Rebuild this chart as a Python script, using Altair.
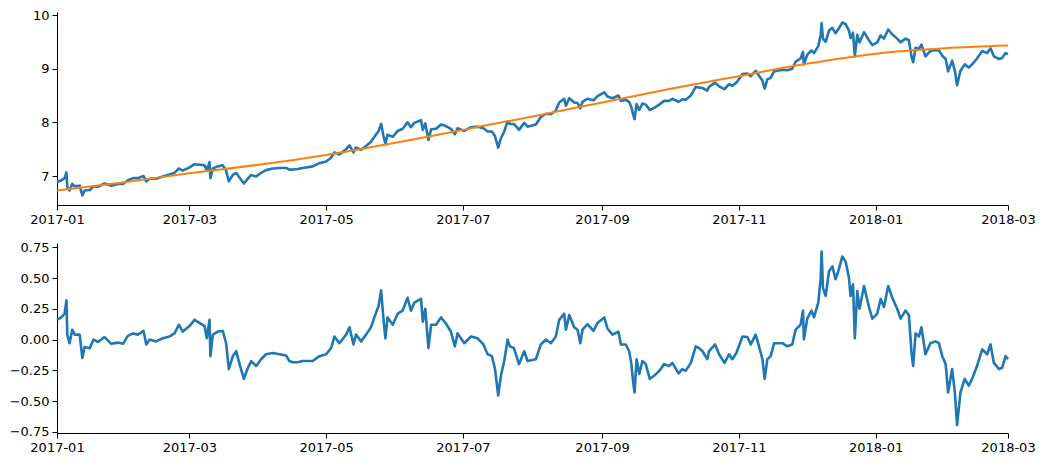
import altair as alt
import pandas as pd

# day offsets from 2017-01-01 (UTC) of the sampled observations
day_offsets = [
    0.0, 1.9, 3.4, 4.2, 4.6, 5.6, 6.8, 7.9, 10.1, 11.3, 12.3, 14.6, 16.3, 18.3, 21.2, 24.2, 27.2, 29.4,
    31.6, 33.9, 36.1, 38.6, 39.8, 41.3, 44.2, 47.2, 50.2, 52.4, 54.3, 56.1,
    59.1, 61.3, 63.5, 65.8, 66.8, 68.0, 68.4, 69.5, 71.7, 73.9, 75.4, 76.6, 78.4, 79.9, 81.4, 83.3, 85.1, 86.6, 88.8,
    91.0, 93.2, 96.2, 99.2, 102.2, 103.6, 105.1, 107.3, 109.6, 114.0, 117.0, 120.0,
    122.2, 123.7, 125.9, 128.9, 130.4, 132.2, 133.3, 135.6, 137.8, 140.0, 141.5, 143.4, 144.5, 145.5, 146.4, 147.4, 149.7,
    151.9, 154.1, 156.3, 157.8, 159.3, 162.3, 163.1, 164.2, 165.6, 166.8, 169.0, 171.2, 173.4, 175.6, 177.4, 178.6,
    181.6, 184.6, 187.5, 190.1, 192.0, 193.9, 195.3, 196.7, 197.9, 199.4, 200.9, 201.9, 203.7, 206.0, 208.3, 209.8,
    213.5, 215.7, 218.0, 220.2, 222.4, 223.9, 226.1, 226.9, 228.4, 230.6, 232.1, 233.3, 234.3, 236.5, 239.2, 241.0,
    244.0, 245.4, 247.7, 250.3, 251.4, 253.6, 255.1, 256.1, 256.9, 257.5, 258.4, 259.6, 261.0, 262.5, 264.3, 266.2, 268.5, 270.7, 272.9,
    274.4, 277.1, 278.8, 280.3, 282.6, 284.8, 286.3, 287.8, 289.9, 290.7, 293.4, 295.2, 297.6, 299.6, 301.1, 302.9,
    305.6, 307.8, 309.3, 311.5, 313.0, 314.5, 315.5, 316.7, 318.2, 319.7, 323.4, 325.6, 327.8, 329.3, 331.5, 332.6, 333.0,
    334.5, 336.4, 337.5, 339.4, 340.5, 340.9, 341.5, 342.7, 344.2, 345.7, 347.1, 348.6, 350.1, 351.6, 353.1, 353.8, 354.9, 355.7, 356.8, 357.8, 359.8, 362.0, 363.5,
    365.7, 367.2, 368.7, 370.6, 372.4, 374.6, 376.1, 378.3, 379.8, 381.0, 381.7, 382.8, 384.3, 385.4, 387.2, 389.4, 391.7, 393.2, 394.7,
    396.2, 397.3, 399.1, 400.3, 401.3, 402.8, 404.7, 406.5, 408.0, 410.2, 412.5, 414.7, 416.2, 417.7, 420.0, 421.4, 422.9, 424.0,
]

# top panel: observed series
price = [
    6.89, 6.92, 6.96, 7.07, 6.79, 6.73, 6.85, 6.81, 6.82, 6.64, 6.73, 6.74, 6.81, 6.80, 6.86, 6.82, 6.85, 6.85,
    6.92, 6.96, 6.96, 7.00, 6.90, 6.95, 6.95, 6.99, 7.03, 7.06, 7.14, 7.10,
    7.16, 7.22, 7.21, 7.20, 7.10, 7.26, 6.96, 7.14, 7.18, 7.20, 7.10, 6.90, 7.02, 7.06, 6.97, 6.86, 6.95, 7.02, 6.99,
    7.06, 7.11, 7.14, 7.15, 7.15, 7.12, 7.12, 7.13, 7.15, 7.18, 7.24, 7.27,
    7.34, 7.44, 7.40, 7.50, 7.57, 7.44, 7.53, 7.49, 7.56, 7.64, 7.73, 7.84, 7.97, 7.76, 7.60, 7.77, 7.73,
    7.84, 7.88, 8.00, 7.91, 7.99, 8.04, 7.86, 7.98, 7.67, 7.87, 7.88, 7.96, 7.93, 7.88, 7.78, 7.89,
    7.84, 7.91, 7.92, 7.89, 7.83, 7.83, 7.74, 7.53, 7.70, 7.83, 8.02, 7.97, 7.97, 7.86, 7.99, 7.92,
    7.96, 8.10, 8.16, 8.15, 8.22, 8.37, 8.44, 8.31, 8.45, 8.37, 8.36, 8.26, 8.38, 8.44, 8.41, 8.49,
    8.56, 8.48, 8.45, 8.50, 8.40, 8.42, 8.38, 8.28, 8.14, 8.06, 8.34, 8.23, 8.35, 8.33, 8.23, 8.27, 8.33, 8.40, 8.40,
    8.44, 8.38, 8.43, 8.42, 8.50, 8.66, 8.65, 8.64, 8.59, 8.66, 8.74, 8.67, 8.62, 8.71, 8.68, 8.74,
    8.90, 8.91, 8.86, 8.96, 8.87, 8.78, 8.63, 8.80, 8.83, 8.95, 8.98, 8.97, 9.00, 9.13, 9.19, 9.31, 9.08,
    9.26, 9.34, 9.29, 9.42, 9.63, 9.85, 9.56, 9.50, 9.71, 9.76, 9.66, 9.75, 9.86, 9.83, 9.71, 9.57, 9.67, 9.23, 9.63, 9.49, 9.68, 9.53, 9.44,
    9.49, 9.62, 9.56, 9.73, 9.64, 9.56, 9.49, 9.56, 9.53, 9.22, 9.12, 9.39, 9.37, 9.45, 9.23, 9.33, 9.35, 9.34, 9.24,
    9.18, 8.95, 9.15, 8.96, 8.69, 8.96, 9.08, 9.02, 9.08, 9.19, 9.33, 9.29, 9.38, 9.23, 9.18, 9.20, 9.29, 9.27,
]

# bottom panel: deviation from the trend
resid = [
    0.16, 0.18, 0.21, 0.32, 0.04, -0.03, 0.08, 0.04, 0.04, -0.15, -0.06, -0.07, 0.0, -0.02, 0.02, -0.035, -0.025, -0.035,
    0.03, 0.05, 0.04, 0.07, -0.04, 0.0, -0.015, 0.01, 0.025, 0.05, 0.12, 0.065,
    0.11, 0.16, 0.135, 0.11, 0.01, 0.16, -0.135, 0.04, 0.065, 0.07, -0.03, -0.24, -0.135, -0.095, -0.20, -0.32, -0.23, -0.175, -0.215,
    -0.16, -0.12, -0.11, -0.12, -0.13, -0.175, -0.185, -0.185, -0.175, -0.175, -0.135, -0.12,
    -0.07, 0.025, -0.03, 0.04, 0.10, -0.04, 0.04, -0.015, 0.04, 0.10, 0.18, 0.275, 0.40, 0.18, 0.01, 0.18, 0.12,
    0.21, 0.235, 0.34, 0.235, 0.30, 0.33, 0.145, 0.25, -0.07, 0.12, 0.12, 0.18, 0.13, 0.065, -0.055, 0.05,
    -0.03, 0.025, 0.01, -0.04, -0.12, -0.135, -0.24, -0.455, -0.295, -0.175, 0.0, -0.055, -0.07, -0.20, -0.095, -0.175,
    -0.16, -0.04, 0.0, -0.03, 0.025, 0.16, 0.21, 0.08, 0.20, 0.10, 0.08, -0.03, 0.08, 0.125, 0.07, 0.135,
    0.18, 0.09, 0.04, 0.065, -0.04, -0.04, -0.095, -0.20, -0.35, -0.43, -0.16, -0.28, -0.175, -0.20, -0.32, -0.295, -0.255, -0.20, -0.215,
    -0.19, -0.275, -0.24, -0.255, -0.19, -0.055, -0.07, -0.095, -0.16, -0.095, -0.04, -0.12, -0.19, -0.12, -0.16, -0.11,
    0.025, 0.02, -0.04, 0.04, -0.055, -0.16, -0.32, -0.16, -0.135, -0.03, -0.03, -0.055, -0.04, 0.08, 0.12, 0.235, 0.0,
    0.17, 0.235, 0.18, 0.30, 0.50, 0.715, 0.42, 0.355, 0.555, 0.595, 0.49, 0.57, 0.675, 0.635, 0.50, 0.355, 0.45, 0.01, 0.395, 0.25, 0.435, 0.265, 0.17,
    0.21, 0.33, 0.265, 0.435, 0.34, 0.25, 0.17, 0.235, 0.20, -0.11, -0.215, 0.05, 0.025, 0.10, -0.12, -0.03, -0.015, -0.03, -0.135,
    -0.20, -0.43, -0.24, -0.43, -0.695, -0.43, -0.32, -0.375, -0.32, -0.215, -0.08, -0.12, -0.04, -0.19, -0.24, -0.23, -0.135, -0.16,
]

# smooth trend (orange), read at month starts
trend_dates = [
    "2017-01-01", "2017-02-01", "2017-03-01", "2017-04-01", "2017-05-01", "2017-06-01", "2017-07-01",
    "2017-08-01", "2017-09-01", "2017-10-01", "2017-11-01", "2017-12-01", "2018-01-01", "2018-02-01", "2018-03-01",
]
trend = [6.73, 6.89, 7.05, 7.21, 7.39, 7.62, 7.86, 8.11, 8.37, 8.62, 8.86, 9.09, 9.28, 9.38, 9.43]

tick_months = ["2017-01-01", "2017-03-01", "2017-05-01", "2017-07-01", "2017-09-01",
               "2017-11-01", "2018-01-01", "2018-03-01"]

start = pd.Timestamp("2017-01-01")
times = [(start + pd.Timedelta(days=d)).strftime("%Y-%m-%dT%H:%M:%SZ") for d in day_offsets]
df = pd.DataFrame({"t": times, "price": price, "resid": resid})
dft = pd.DataFrame({"t": [d + "T00:00:00Z" for d in trend_dates], "trend": trend})

BLUE = "#1f77b4"
ORANGE = "#ff7f0e"
W = 951


def dt(s):
    y, m, d = (int(v) for v in s.split("-"))
    return alt.DateTime(year=y, month=m, date=d, utc=True)


x_enc = alt.X(
    "t:T",
    scale=alt.Scale(type="utc", domain=[dt("2017-01-01"), dt("2018-03-01")], nice=False),
    axis=alt.Axis(values=[dt(v) for v in tick_months], format="%Y-%m", title=None,
                  labelFlush=False, labelOverlap=False, grid=False),
)

top_line = alt.Chart(df).mark_line(color=BLUE, strokeWidth=2.6, strokeJoin="round").encode(
    x=x_enc,
    y=alt.Y("price:Q", scale=alt.Scale(domain=[6.46, 10.056], nice=False, zero=False),
            axis=alt.Axis(values=[7, 8, 9, 10], format="d", title=None, grid=False)),
)
trend_line = alt.Chart(dft).mark_line(color=ORANGE, strokeWidth=2, interpolate="monotone").encode(
    x=alt.X("t:T"),
    y=alt.Y("trend:Q"),
)
top = alt.layer(top_line, trend_line).properties(width=W, height=193)

bottom = alt.Chart(df).mark_line(color=BLUE, strokeWidth=2.6, strokeJoin="round").encode(
    x=x_enc,
    y=alt.Y("resid:Q", scale=alt.Scale(domain=[-0.76, 0.785], nice=False, zero=False),
            axis=alt.Axis(values=[-0.75, -0.5, -0.25, 0, 0.25, 0.5, 0.75], format=".2f",
                          title=None, grid=False)),
).properties(width=W, height=190)

chart = alt.vconcat(top, bottom, spacing=15).properties(
    padding={"left": 1, "top": 1, "right": 0, "bottom": 0}
).configure_view(stroke=None).configure_axis(
    labelFont="DejaVu Sans", labelFontSize=13, labelColor="black",
    domainColor="black", domainWidth=1, tickColor="black", tickWidth=1, tickSize=5,
    labelPadding=3,
)

chart.save("out.html", embed_options={"renderer": "svg", "actions": False})
